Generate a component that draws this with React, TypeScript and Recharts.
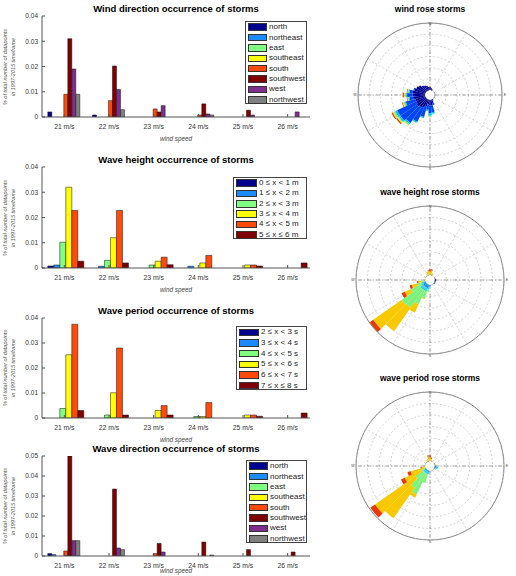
import React from 'react';
import {
  BarChart,
  Bar,
  XAxis,
  YAxis,
  RadialBarChart,
  RadialBar,
  PolarGrid,
  PolarAngleAxis,
  PolarRadiusAxis,
} from 'recharts';

const speeds = ['21 m/s', '22 m/s', '23 m/s', '24 m/s', '25 m/s', '26 m/s'];

const directionNames = ['north', 'northeast', 'east', 'southeast', 'south', 'southwest', 'west', 'northwest'];
const directionColors = ['#000090', '#1a8cff', '#80ff80', '#ffff00', '#ff4a0a', '#800000', '#7e2f8e', '#808080'];

const heightNames = ['0 ≤ x < 1 m', '1 ≤ x < 2 m', '2 ≤ x < 3 m', '3 ≤ x < 4 m', '4 ≤ x < 5 m', '5 ≤ x ≤ 6 m'];
const periodNames = ['2 ≤ x < 3 s', '3 ≤ x < 4 s', '4 ≤ x < 5 s', '5 ≤ x < 6 s', '6 ≤ x < 7 s', '7 ≤ x ≤ 8 s'];
const classColors = ['#000090', '#1a8cff', '#80ff80', '#ffff00', '#ff4a0a', '#800000'];

// wind direction occurrence, one array per direction (21..26 m/s)
const windNorth = [0.002, 0.0008, 0, 0, 0, 0];
const windNortheast = [0, 0, 0, 0, 0, 0];
const windEast = [0, 0, 0, 0, 0, 0];
const windSoutheast = [0, 0, 0, 0, 0, 0];
const windSouth = [0.009, 0.0065, 0.0032, 0.0008, 0, 0];
const windSouthwest = [0.031, 0.0202, 0.002, 0.0052, 0.0027, 0];
const windWest = [0.019, 0.0109, 0.0045, 0.0012, 0.0008, 0.002];
const windNorthwest = [0.009, 0.0029, 0, 0.0008, 0, 0];

// wave height occurrence
const height0to1 = [0.0008, 0, 0, 0, 0, 0];
const height1to2 = [0.0012, 0.0007, 0, 0.0007, 0, 0];
const height2to3 = [0.0102, 0.003, 0.0012, 0, 0, 0];
const height3to4 = [0.032, 0.012, 0.0027, 0.002, 0.0012, 0];
const height4to5 = [0.0228, 0.0228, 0.0043, 0.005, 0.0012, 0];
const height5to6 = [0.0027, 0.002, 0.0013, 0, 0.0008, 0.002];

// wave period occurrence
const period2to3 = [0, 0, 0, 0, 0, 0];
const period3to4 = [0, 0, 0, 0, 0, 0];
const period4to5 = [0.0038, 0.0012, 0, 0.0006, 0, 0];
const period5to6 = [0.0253, 0.0101, 0.003, 0.0006, 0.0012, 0];
const period6to7 = [0.0375, 0.028, 0.005, 0.0062, 0.0012, 0];
const period7to8 = [0.003, 0.0012, 0.0012, 0, 0.0007, 0.002];

// wave direction occurrence
const waveNorth = [0.0012, 0, 0, 0, 0, 0];
const waveNortheast = [0.0007, 0, 0, 0, 0, 0];
const waveEast = [0, 0, 0, 0, 0, 0];
const waveSoutheast = [0, 0, 0, 0, 0, 0];
const waveSouth = [0.0025, 0, 0.0012, 0, 0, 0];
const waveSouthwest = [0.05, 0.0335, 0.0063, 0.007, 0.0032, 0.002];
const waveWest = [0.0077, 0.004, 0.002, 0, 0, 0];
const waveNorthwest = [0.0077, 0.0032, 0, 0.0005, 0, 0];

// rose direction bins (degrees from north, clockwise)
const roseDirections = [
  0, 10, 20, 30, 40, 50, 60, 70, 80, 90, 100, 110,
  120, 130, 140, 150, 160, 170, 180, 190, 200, 210, 220, 230,
  240, 250, 260, 270, 280, 290, 300, 310, 320, 330, 340, 350,
];

const windRoseColors = ['#00008f', '#0046ee', '#00c4f4', '#74f48c', '#f4e000', '#e2300e'];
const waveRoseColors = ['#000090', '#1288f0', '#20d0e8', '#7cf27c', '#f8c800', '#e8380c'];

// wind rose, stacked frequency per class (%)
const windRose1 = [
  0.3, 0.2, 0.1, 0, 0, 0,
  0, 0, 0, 0, 0, 0,
  0, 0, 0, 0.1, 0.3, 0.5,
  0.5, 0.4, 0.6, 0.8, 0.9, 1.0,
  0.9, 0.9, 1.0, 1.1, 1.1, 1.0,
  0.9, 0.8, 0.6, 0.5, 0.4, 0.3,
];
const windRose2 = [
  0, 0, 0, 0, 0, 0,
  0, 0, 0, 0, 0, 0,
  0, 0, 0, 0, 0.2, 0.6,
  0.7, 0.5, 1.0, 1.4, 1.7, 1.8,
  1.9, 0.9, 0.4, 0.5, 0.3, 0.1,
  0, 0, 0, 0, 0, 0,
];
const windRose3 = [
  0, 0, 0, 0, 0, 0,
  0, 0, 0, 0, 0, 0,
  0, 0, 0, 0, 0, 0.15,
  0.2, 0.1, 0.1, 0.1, 0.15, 0.15,
  0.2, 0.1, 0.1, 0.1, 0.1, 0,
  0, 0, 0, 0, 0, 0,
];
const windRose4 = [
  0, 0, 0, 0, 0, 0,
  0, 0, 0, 0, 0, 0,
  0, 0, 0, 0, 0, 0.05,
  0.1, 0, 0, 0.05, 0.1, 0.1,
  0.15, 0.1, 0.05, 0.1, 0.05, 0,
  0, 0, 0, 0, 0, 0,
];
const windRose5 = [
  0, 0, 0, 0, 0, 0,
  0, 0, 0, 0, 0, 0,
  0, 0, 0, 0, 0, 0,
  0, 0, 0, 0, 0.05, 0.1,
  0.1, 0.1, 0.05, 0.1, 0.05, 0,
  0, 0, 0, 0, 0, 0,
];
const windRose6 = [
  0, 0, 0, 0, 0, 0,
  0, 0, 0, 0, 0, 0,
  0, 0, 0, 0, 0, 0,
  0, 0, 0, 0, 0, 0.1,
  0.1, 0.05, 0.05, 0.1, 0.05, 0,
  0, 0, 0, 0, 0, 0,
];

// wave height rose
const heightRose1 = [
  0, 0, 0, 0, 0, 0,
  0, 0, 0.05, 0.1, 0.1, 0.05,
  0, 0, 0, 0, 0, 0,
  0, 0, 0, 0, 0, 0,
  0, 0, 0, 0, 0, 0,
  0, 0, 0, 0, 0, 0,
];
const heightRose2 = [
  0, 0, 0, 0, 0, 0,
  0, 0, 0, 0, 0, 0,
  0.1, 0.1, 0, 0, 0, 0,
  0.1, 0.2, 0.3, 0.3, 0.3, 0.3,
  0.2, 0.1, 0, 0, 0, 0,
  0, 0, 0, 0, 0, 0,
];
const heightRose3 = [
  0, 0, 0, 0, 0, 0,
  0, 0, 0, 0, 0, 0,
  0, 0, 0, 0, 0, 0,
  0, 0.2, 0.3, 0.3, 0.3, 0.3,
  0.2, 0.2, 0.1, 0, 0, 0,
  0, 0, 0, 0, 0, 0,
];
const heightRose4 = [
  0, 0, 0, 0, 0, 0,
  0, 0, 0, 0, 0, 0,
  0, 0, 0, 0, 0, 0,
  0, 0.2, 0.6, 1.3, 1.9, 2.0,
  1.0, 0.4, 0.2, 0, 0, 0,
  0, 0, 0, 0, 0.1, 0.1,
];
const heightRose5 = [
  0.3, 0.4, 0.2, 0, 0, 0,
  0, 0, 0, 0, 0, 0,
  0, 0, 0, 0, 0, 0,
  0, 0, 0.1, 0.8, 2.5, 3.0,
  0.6, 0.5, 0.3, 0.1, 0, 0,
  0, 0, 0, 0.1, 0.2, 0.3,
];
const heightRose6 = [
  0.2, 0.1, 0, 0, 0, 0,
  0, 0, 0, 0, 0, 0,
  0, 0, 0, 0, 0, 0,
  0, 0, 0, 0, 0, 0.4,
  0.3, 0.2, 0.1, 0, 0, 0,
  0, 0, 0, 0, 0, 0.05,
];

// wave period rose
const periodRose1 = [
  0, 0, 0, 0, 0, 0,
  0, 0, 0, 0.05, 0.05, 0,
  0, 0, 0, 0, 0, 0,
  0, 0, 0, 0, 0, 0,
  0, 0, 0, 0, 0, 0,
  0, 0, 0, 0, 0, 0,
];
const periodRose2 = [
  0, 0, 0, 0, 0, 0,
  0, 0, 0, 0, 0.1, 0.1,
  0, 0, 0, 0, 0, 0,
  0, 0.1, 0.1, 0.1, 0.1, 0.1,
  0, 0, 0, 0, 0, 0,
  0, 0, 0, 0, 0, 0,
];
const periodRose3 = [
  0, 0, 0, 0, 0, 0,
  0, 0, 0, 0.1, 0.15, 0.15,
  0.1, 0, 0, 0, 0, 0,
  0, 0.15, 0.2, 0.2, 0.2, 0.2,
  0.1, 0, 0, 0, 0, 0,
  0, 0, 0, 0, 0, 0,
];
const periodRose4 = [
  0, 0, 0, 0, 0, 0,
  0, 0, 0.05, 0, 0, 0,
  0, 0, 0, 0, 0, 0,
  0, 0, 0.8, 2.0, 1.6, 0.8,
  0.3, 0.1, 0, 0, 0, 0,
  0, 0, 0, 0, 0, 0,
];
const periodRose5 = [
  0.3, 0.2, 0, 0, 0, 0,
  0, 0, 0, 0, 0, 0,
  0, 0, 0, 0, 0, 0,
  0, 0, 0, 0.3, 3.2, 4.3,
  1.6, 1.2, 0.3, 0.1, 0, 0,
  0, 0, 0, 0.1, 0.2, 0.4,
];
const periodRose6 = [
  0.2, 0.1, 0, 0, 0, 0,
  0, 0, 0, 0, 0, 0,
  0, 0, 0, 0, 0, 0,
  0, 0, 0, 0, 0, 0.5,
  0.35, 0.3, 0.1, 0, 0, 0,
  0, 0, 0, 0, 0, 0.1,
];

const spokeAngles = [0, 30, 60, 90, 120, 150, 180, 210, 240, 270, 300, 330];
const axisColor = '#555';

function toRows(series: number[][]) {
  return speeds.map((speed, i) => {
    const row: Record<string, string | number> = { speed };
    series.forEach((s, k) => {
      row['s' + k] = s[i];
    });
    return row;
  });
}

function toRoseRows(classes: number[][]) {
  return roseDirections.map((dir, i) => {
    const row: Record<string, number> = { dir };
    classes.forEach((c, k) => {
      row['c' + k] = c[i];
    });
    return row;
  });
}

function Caption({ x, y, size, bold, italic, color = '#000', children }: any) {
  return (
    <div
      style={{
        position: 'absolute',
        left: x - 150,
        top: y - size * 0.6,
        width: 300,
        textAlign: 'center',
        fontSize: size,
        lineHeight: `${size * 1.2}px`,
        fontWeight: bold ? 'bold' : 'normal',
        fontStyle: italic ? 'italic' : 'normal',
        color,
        whiteSpace: 'nowrap',
      }}
    >
      {children}
    </div>
  );
}

function LegendBox({ left, top, width, height, names, colors, swatch }: any) {
  const rowH = height / names.length;
  return (
    <div
      style={{
        position: 'absolute',
        left,
        top,
        width,
        height,
        border: '1px solid #444',
        background: '#fff',
        boxSizing: 'border-box',
      }}
    >
      {names.map((n: string, i: number) => (
        <div
          key={n}
          style={{
            position: 'absolute',
            left: 2,
            top: i * rowH,
            height: rowH,
            display: 'flex',
            alignItems: 'center',
            whiteSpace: 'nowrap',
          }}
        >
          <span
            style={{
              display: 'inline-block',
              width: swatch,
              height: 7.5,
              background: colors[i],
              border: '1px solid #333',
              boxSizing: 'border-box',
              marginRight: 2,
            }}
          />
          <span style={{ fontSize: 8, lineHeight: '8px', color: '#222' }}>{n}</span>
        </div>
      ))}
    </div>
  );
}

function OccurrencePanel({ top, bottom, title, series, colors, names, yMax, yTicks, legend, xLabelY }: any) {
  const data = toRows(series);
  const plotH = bottom - top;
  const mid = (top + bottom) / 2;
  return (
    <>
      <div style={{ position: 'absolute', left: 0, top: top - 4 }}>
        <BarChart
          width={316}
          height={4 + plotH + 20}
          data={data}
          margin={{ top: 4, right: 6, left: 0, bottom: 0 }}
          barCategoryGap="13%"
          barGap={0}
        >
          <XAxis
            dataKey="speed"
            height={20}
            interval={0}
            stroke={axisColor}
            tickSize={-3}
            tickMargin={10}
            tick={{ fontSize: 6.8, fill: '#333' }}
          />
          <XAxis xAxisId="top" dataKey="speed" orientation="top" height={0} tick={false} tickSize={-3} stroke={axisColor} />
          <YAxis
            type="number"
            domain={[0, yMax]}
            ticks={yTicks}
            allowDataOverflow
            width={42}
            stroke={axisColor}
            tickSize={-3}
            tickMargin={7}
            tick={{ fontSize: 6.5, fill: '#333' }}
          />
          <YAxis
            yAxisId="right"
            orientation="right"
            type="number"
            domain={[0, yMax]}
            ticks={yTicks}
            allowDataOverflow
            width={0}
            tick={false}
            tickSize={-3}
            stroke={axisColor}
          />
          {series.map((_: number[], k: number) => (
            <Bar
              key={k}
              dataKey={'s' + k}
              name={names[k]}
              fill={colors[k]}
              stroke="#111"
              strokeWidth={0.5}
              isAnimationActive={false}
            />
          ))}
        </BarChart>
      </div>
      <Caption x={176} y={top - 7} size={9.5} bold>
        {title}
      </Caption>
      <Caption x={176} y={xLabelY ?? bottom + 22} size={6.3} italic color="#444">
        wind speed
      </Caption>
      <div
        style={{
          position: 'absolute',
          left: 10 - 60,
          top: mid - 8,
          width: 120,
          height: 16,
          transform: 'rotate(-90deg)',
          textAlign: 'center',
          fontSize: 5.5,
          lineHeight: '7.5px',
          fontStyle: 'italic',
          color: '#555',
          whiteSpace: 'nowrap',
        }}
      >
        % of total number of datapoints
        <br />
        in 1997-2015 timeframe
      </div>
      <LegendBox {...legend} names={names} colors={colors} />
    </>
  );
}

function Rose({ top, cy, radius, title, classes, colors }: any) {
  const data = toRoseRows(classes);
  const cx = 90;
  return (
    <>
      <div style={{ position: 'absolute', left: 340, top }}>
        <RadialBarChart
          width={176}
          height={192}
          data={data}
          cx={cx}
          cy={cy}
          innerRadius={5}
          outerRadius={radius}
          startAngle={85}
          endAngle={-275}
          layout="centric"
          barCategoryGap="0%"
          barGap={0}
        >
          <PolarGrid gridType="circle" polarAngles={spokeAngles} stroke="#b8b8b8" strokeDasharray="2 2" strokeWidth={0.6} />
          <PolarGrid gridType="circle" polarAngles={[0, 90, 180, 270]} polarRadius={[5]} stroke="#777" strokeDasharray="4 2 1 2" strokeWidth={0.6} />
          <PolarAngleAxis dataKey="dir" type="category" tick={false} tickLine={false} axisLineType="circle" stroke="#8a8a8a" />
          <PolarRadiusAxis type="number" domain={[0, 6]} tickCount={7} tick={false} axisLine={false} />
          {classes.map((_: number[], k: number) => (
            <RadialBar key={k} dataKey={'c' + k} stackId="a" fill={colors[k]} isAnimationActive={false} />
          ))}
        </RadialBarChart>
      </div>
      <Caption x={430} y={top + cy - radius - 14} size={8.5} bold>
        {title}
      </Caption>
      <Caption x={340 + cx} y={top + cy - radius + 1} size={3.5} color="#444">N</Caption>
      <Caption x={340 + cx} y={top + cy + radius + 2} size={3.5} color="#444">S</Caption>
      <Caption x={340 + cx + radius + 3} y={top + cy} size={3.5} color="#444">E</Caption>
      <Caption x={340 + cx - radius - 3} y={top + cy} size={3.5} color="#444">W</Caption>
    </>
  );
}

export default function App() {
  return (
    <div
      style={{
        position: 'absolute',
        left: 0,
        top: 0,
        width: 516,
        height: 576,
        overflow: 'hidden',
        background: '#fff',
        fontFamily: '"Liberation Sans", Arial, Helvetica, sans-serif',
      }}
    >
      <OccurrencePanel
        top={16}
        bottom={117}
        title="Wind direction occurrence of storms"
        series={[windNorth, windNortheast, windEast, windSoutheast, windSouth, windSouthwest, windWest, windNorthwest]}
        names={directionNames}
        colors={directionColors}
        yMax={0.04}
        yTicks={[0, 0.01, 0.02, 0.03, 0.04]}
        legend={{ left: 245, top: 21, width: 62, height: 83, swatch: 19 }}
      />
      <OccurrencePanel
        top={167}
        bottom={268}
        title="Wave height occurrence of storms"
        series={[height0to1, height1to2, height2to3, height3to4, height4to5, height5to6]}
        names={heightNames}
        colors={classColors}
        yMax={0.04}
        yTicks={[0, 0.01, 0.02, 0.03, 0.04]}
        legend={{ left: 233, top: 177, width: 74, height: 62, swatch: 21 }}
      />
      <OccurrencePanel
        top={318}
        bottom={418}
        title="Wave period occurrence of storms"
        series={[period2to3, period3to4, period4to5, period5to6, period6to7, period7to8]}
        names={periodNames}
        colors={classColors}
        yMax={0.04}
        yTicks={[0, 0.01, 0.02, 0.03, 0.04]}
        legend={{ left: 236, top: 326, width: 71, height: 64, swatch: 20 }}
      />
      <OccurrencePanel
        top={456}
        bottom={556}
        title="Wave direction occurrence of storms"
        series={[waveNorth, waveNortheast, waveEast, waveSoutheast, waveSouth, waveSouthwest, waveWest, waveNorthwest]}
        names={directionNames}
        colors={directionColors}
        yMax={0.05}
        yTicks={[0, 0.01, 0.02, 0.03, 0.04, 0.05]}
        legend={{ left: 246, top: 460, width: 61, height: 83, swatch: 19 }}
        xLabelY={571}
      />
      <Rose
        top={0}
        cy={95}
        radius={72}
        title="wind rose storms"
        classes={[windRose1, windRose2, windRose3, windRose4, windRose5, windRose6]}
        colors={windRoseColors}
      />
      <Rose
        top={185}
        cy={95}
        radius={74}
        title="wave height rose storms"
        classes={[heightRose1, heightRose2, heightRose3, heightRose4, heightRose5, heightRose6]}
        colors={waveRoseColors}
      />
      <Rose
        top={370}
        cy={96}
        radius={74}
        title="wave period rose storms"
        classes={[periodRose1, periodRose2, periodRose3, periodRose4, periodRose5, periodRose6]}
        colors={waveRoseColors}
      />
    </div>
  );
}
